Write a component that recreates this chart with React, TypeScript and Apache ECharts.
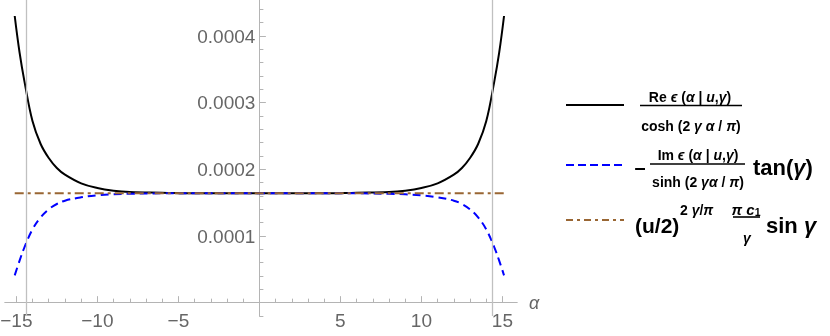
import React, { useEffect, useRef } from "react";
import * as echarts from "echarts";

const alpha = [-15.1, -14.8, -14.5, -14, -13.5, -13, -12.5, -12, -11, -10, -9, -8, -6, -4, -2, 0, 2, 4, 6, 8, 9, 10, 11, 12, 12.5, 13, 13.5, 14, 14.5, 14.8, 15.1];
const reSeries = [0.00043, 0.000375, 0.000332, 0.000272, 0.000238, 0.000217, 0.000202, 0.000192, 0.000179, 0.000172, 0.000168, 0.000166, 0.000165, 0.000164, 0.000164, 0.000164, 0.000164, 0.000164, 0.000165, 0.000166, 0.000168, 0.000172, 0.000179, 0.000192, 0.000202, 0.000217, 0.000238, 0.000272, 0.000332, 0.000375, 0.00043];
const imSeries = [0.000041, 0.000063, 0.000083, 0.00011, 0.000128, 0.00014, 0.000148, 0.000153, 0.000158, 0.000161, 0.0001625, 0.0001633, 0.000164, 0.000164, 0.000164, 0.000164, 0.000164, 0.000164, 0.000164, 0.0001633, 0.0001625, 0.000161, 0.000158, 0.000153, 0.000148, 0.00014, 0.000128, 0.00011, 0.000083, 0.000063, 0.000041];
const constAlpha = [-15.1, 15.1];
const constSeries = [0.000164, 0.000164];
const gridLinesAt = [-14.4, 14.4];
const xMajor = [-15, -10, -5, 5, 10, 15];
const xMinor = [-14, -13, -12, -11, -9, -8, -7, -6, -4, -3, -2, -1, 1, 2, 3, 4, 6, 7, 8, 9, 11, 12, 13, 14];
const yMajor = [0.0001, 0.0002, 0.0003, 0.0004];
const yMinor = [-0.00002, 0.00002, 0.00004, 0.00006, 0.00008, 0.00012, 0.00014, 0.00016, 0.00018, 0.00022, 0.00024, 0.00026, 0.00028, 0.00032, 0.00034, 0.00036, 0.00038, 0.00042, 0.00044];

const FONT = "'Liberation Sans', Arial, sans-serif";
const AXIS_COLOR = "#b4b4b4";
const LABEL_COLOR = "#666666";

const X_MIN = -15.7;
const X_MAX = 15.9;
const GRID_LEFT = 5;
const GRID_RIGHT = 313;
const CHART_W = 830;

const rich = (size: number) => ({
  b: { fontFamily: FONT, fontWeight: "bold", fontSize: size, fill: "#000" },
  i: { fontFamily: FONT, fontWeight: "bold", fontStyle: "italic", fontSize: size, fill: "#000" },
  s: { fontFamily: FONT, fontWeight: "bold", fontSize: size * 0.7, fill: "#000", padding: [size * 0.45, 0, 0, 0] },
});

function txt(x: number, y: number, text: string, size: number, align = "center") {
  return {
    type: "text",
    x,
    y,
    style: {
      text,
      fontFamily: FONT,
      fontWeight: "bold",
      fontSize: size,
      fill: "#000",
      align,
      verticalAlign: "middle",
      rich: rich(size),
    },
  };
}

function seg(x1: number, x2: number, y: number, stroke: string, lineWidth: number, lineDash?: number[]) {
  return {
    type: "line",
    shape: { x1, y1: y, x2, y2: y },
    style: { stroke, lineWidth, lineDash },
  };
}

export default function App() {
  const ref = useRef<HTMLDivElement>(null);
  useEffect(() => {
    if (!ref.current) return;
    const chart = echarts.init(ref.current, null, { renderer: "svg" });
    const gridW = CHART_W - GRID_LEFT - GRID_RIGHT;
    const zeroOffset = ((0 - X_MIN) / (X_MAX - X_MIN)) * gridW;
    const xBase = {
      type: "value",
      min: X_MIN,
      max: X_MAX,
      position: "bottom",
      splitLine: { show: false },
      axisLine: { show: true, onZero: true, onZeroAxisIndex: 0, lineStyle: { color: AXIS_COLOR, width: 1 } },
    };
    const yBase = {
      type: "value",
      min: -0.00002,
      max: 0.000454,
      position: "left",
      offset: -zeroOffset,
      splitLine: { show: false },
      axisLine: { show: true, onZero: false, lineStyle: { color: AXIS_COLOR, width: 1 } },
    };
    const pair = (xs: number[], ys: number[]) => xs.map((x, i) => [x, ys[i]]);
    chart.setOption({
      animation: false,
      grid: { left: GRID_LEFT, right: GRID_RIGHT, top: 0, bottom: 20, containLabel: false, outerBoundsMode: "none" },
      xAxis: [
        {
          ...xBase,
          name: "α",
          nameLocation: "end",
          nameGap: 12,
          nameTextStyle: { fontFamily: FONT, fontStyle: "italic", fontSize: 18, color: LABEL_COLOR, verticalAlign: "middle" },
          axisTick: { show: true, inside: true, length: 6.5, customValues: xMajor, lineStyle: { color: AXIS_COLOR } },
          axisLabel: {
            show: true,
            customValues: xMajor,
            margin: -5,
            fontFamily: FONT,
            fontSize: 19,
            color: LABEL_COLOR,
            formatter: (v: number) => (v < 0 ? "−" + Math.abs(v) : String(v)),
          },
        },
        {
          ...xBase,
          axisTick: { show: true, inside: true, length: 4, customValues: xMinor, lineStyle: { color: AXIS_COLOR } },
          axisLabel: { show: false },
        },
      ],
      yAxis: [
        {
          ...yBase,
          axisTick: { show: true, inside: true, length: 6.5, customValues: yMajor, lineStyle: { color: AXIS_COLOR } },
          axisLabel: {
            show: true,
            customValues: yMajor,
            margin: 4,
            fontFamily: FONT,
            fontSize: 19,
            color: LABEL_COLOR,
            formatter: (v: number) => v.toFixed(4),
          },
        },
        {
          ...yBase,
          axisTick: { show: true, inside: true, length: 4, customValues: yMinor, lineStyle: { color: AXIS_COLOR } },
          axisLabel: { show: false },
        },
      ],
      series: [
        {
          type: "line",
          data: pair(alpha, reSeries),
          smooth: 0.4,
          showSymbol: false,
          symbol: "none",
          lineStyle: { color: "#000", width: 2 },
          markLine: {
            silent: true,
            symbol: "none",
            label: { show: false },
            lineStyle: { color: "#c0c0c0", width: 1.3, type: "solid" },
            data: gridLinesAt.map((x) => ({ xAxis: x })),
          },
        },
        {
          type: "line",
          data: pair(alpha, imSeries),
          smooth: 0.4,
          showSymbol: false,
          symbol: "none",
          lineStyle: { color: "#0000ff", width: 2, type: [8, 5] },
        },
        {
          type: "line",
          data: pair(constAlpha, constSeries),
          showSymbol: false,
          symbol: "none",
          lineStyle: { color: "#996633", width: 2, type: [9, 4, 3, 4] },
        },
      ],
      graphic: [
        seg(566, 624, 105, "#000", 2),
        seg(566, 624, 165, "#0000ff", 2, [8, 4]),
        seg(566, 624, 220, "#996633", 2, [7, 4, 3, 4]),
        // row 1
        txt(690, 97, "{b|Re }{i|ϵ}{b| (}{i|α}{b| | }{i|u}{b|,}{i|γ}{b|)}", 14),
        seg(640, 742, 105.5, "#000", 1.6),
        txt(691, 126, "{b|cosh (2 }{i|γ α}{b| / }{i|π}{b|)}", 14),
        // row 2
        txt(640, 167, "–", 20),
        txt(698, 155, "{b|Im }{i|ϵ}{b| (}{i|α}{b| | }{i|u}{b|,}{i|γ}{b|)}", 14),
        seg(650, 745, 164, "#000", 1.6),
        txt(698, 182, "{b|sinh (2 }{i|γα}{b| / }{i|π}{b|)}", 14),
        txt(753, 167, "{b|tan(}{i|γ}{b|)}", 22, "left"),
        // row 3
        txt(635, 225, "{b|(u/2)}", 21, "left"),
        txt(680, 210, "{b|2 }{i|γ}{b|/}{i|π}", 14, "left"),
        txt(746, 209, "{i|π c}{s|1}", 15),
        seg(733, 760, 217, "#000", 1.6),
        txt(747, 238, "{i|γ}", 14),
        txt(766, 225, "{b|sin }{i|γ}", 22, "left"),
      ],
    });
    return () => chart.dispose();
  }, []);
  return <div ref={ref} style={{ position: "fixed", left: 0, top: 0, width: 830, height: 336 }} />;
}
